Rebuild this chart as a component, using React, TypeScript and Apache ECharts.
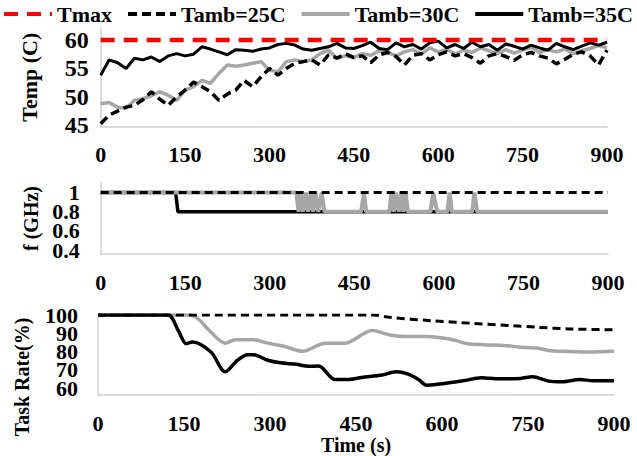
import React, { useEffect, useRef } from "react";
import * as echarts from "echarts";

const FONT = "Liberation Serif";
const GRAY = "#A6A6A6";
const AXIS = "#D0D0D0";

// Legend / series names
const seriesNames = ["Tmax", "Tamb=25C", "Tamb=30C", "Tamb=35C"];

// X ticks (seconds)
const xTicks = [0, 150, 300, 450, 600, 750, 900];

// ---- Panel 1: temperature ----
const tempTicks = [45, 50, 55, 60];
const tmaxTimes = [0, 900];
const tmaxValues = [60, 60];
const tempTimes = [
  0, 15, 30, 45, 60, 75, 90, 105, 120, 135, 150, 165, 180, 195, 210, 225, 240, 255, 270, 285,
  300, 315, 330, 345, 360, 375, 390, 405, 420, 435, 450, 465, 480, 495, 510, 525, 540, 555, 570, 585,
  600, 615, 630, 645, 660, 675, 690, 705, 720, 735, 750, 765, 780, 795, 810, 825, 840, 855, 870, 885, 900,
];
const temp25 = [
  45.3, 46.8, 47.5, 48.2, 48.5, 49.5, 50.9, 49.6, 48.5, 50.0, 51.2, 52.6, 51.8, 50.9, 49.4, 50.5, 51.2, 52.9, 51.8, 53.5,
  55.0, 53.8, 55.0, 55.9, 56.2, 56.5, 55.6, 57.4, 56.8, 57.6, 56.9, 57.2, 56.0, 57.4, 57.8, 57.1, 55.6, 57.3, 57.6, 56.5,
  57.4, 57.9, 57.2, 57.6, 56.9, 55.9, 57.2, 57.6, 57.1, 56.4, 57.4, 57.8, 57.2, 56.8, 55.8, 56.6, 57.5, 57.9, 57.2, 55.6, 58.2,
];
const temp30 = [
  48.8, 49.0, 48.2, 48.0, 49.4, 49.7, 50.2, 50.9, 50.3, 49.4, 51.2, 51.8, 52.9, 52.4, 54.1, 55.6, 55.4, 55.6, 55.9, 56.2,
  54.7, 54.4, 56.2, 56.5, 56.2, 56.5, 57.6, 58.2, 56.8, 57.2, 56.9, 57.6, 57.3, 58.1, 57.8, 57.2, 57.9, 58.3, 57.5, 58.6,
  57.9, 58.4, 57.5, 58.2, 57.8, 58.6, 58.1, 57.6, 58.3, 57.7, 58.2, 58.7, 57.8, 58.3, 57.9, 58.4, 57.6, 58.1, 58.5, 59.0, 58.6,
];
const temp35 = [
  53.8, 56.5, 56.0, 55.0, 56.8, 56.5, 57.0, 56.2, 57.2, 57.6, 57.2, 57.5, 58.8, 58.4, 57.9, 57.4, 58.3, 58.2, 58.0, 58.4,
  58.6, 59.2, 59.4, 59.1, 58.4, 58.2, 58.5, 58.8, 59.4, 58.6, 58.5, 59.0, 59.6, 58.5, 58.3, 59.5, 58.8, 59.2, 58.4, 59.5,
  59.8, 58.6, 59.2, 58.5, 59.6, 58.8, 59.2, 58.2, 59.3, 58.9, 58.4, 59.1, 58.6, 58.2, 59.4, 58.8, 58.3, 58.9, 59.5, 59.1, 59.6,
];

// ---- Panel 2: frequency ----
const freqTicksA = [0.4, 0.8];
const freqTicksB = [0.6, 1];
const freqTimes25 = [0, 900];
const freq25 = [1, 1];
const freqTimes30 = [
  0, 347, 351, 355, 359, 364, 368, 373, 377, 381, 386, 392, 397, 462, 467, 471, 512, 516, 520, 524,
  529, 533, 537, 541, 545, 585, 590, 597, 615, 619, 623, 659, 663, 668, 900,
];
const freq30 = [
  1, 1, 0.8, 1, 0.8, 1, 0.8, 1, 0.8, 1, 0.8, 1, 0.8, 0.8, 1, 0.8, 0.8, 1, 0.8, 1,
  0.8, 1, 0.8, 1, 0.8, 0.8, 1, 0.8, 0.8, 1, 0.8, 0.8, 1, 0.8, 0.8,
];
const freqTimes35 = [0, 133, 137, 900];
const freq35 = [1, 1, 0.8, 0.8];

// ---- Panel 3: task rate ----
const rateTicksA = [60, 80, 100];
const rateTicksB = [70, 90];
const rateTimes25 = [0, 481, 509, 581, 651, 722, 765, 822, 900];
const rate25 = [100, 100, 98.7, 96.9, 95.5, 94.2, 93.3, 92.4, 91.9];
const rateTimes30 = [
  0, 161, 175, 197, 222, 239, 271, 296, 325, 357, 396, 431, 478, 509, 538, 573, 598, 623, 644, 673,
  708, 737, 765, 786, 808, 857, 900,
];
const rate30 = [
  100, 100, 97.8, 90.6, 84.6, 86.4, 86.4, 84.6, 82.8, 80.1, 84.6, 84.6, 91.5, 89.1, 88.2, 88.2, 87.5, 86.1, 84.3, 83.7,
  83.3, 82.4, 81.9, 80.6, 80.1, 79.7, 80.1,
];
const rateTimes35 = [
  0, 122, 140, 154, 165, 197, 222, 243, 261, 271, 296, 318, 346, 367, 385, 413, 438, 460, 495, 520,
  541, 559, 573, 595, 616, 637, 669, 694, 737, 758, 786, 808, 840, 864, 900,
];
const rate35 = [
  100, 100, 91.5, 84.3, 85.2, 79.7, 68.9, 75.2, 78.3, 78.3, 75.2, 73.8, 73.0, 71.9, 72.1, 64.7, 64.7, 65.8, 67.1, 68.9,
  67.6, 64.7, 61.6, 62.2, 63.1, 64.0, 65.6, 65.1, 65.3, 66.2, 63.8, 63.4, 64.7, 64.0, 64.0,
];

const pairs = (xs: number[], ys: number[]) => xs.map((x, i) => [x, ys[i]]);

const labelFont = { fontFamily: FONT, fontWeight: "bold" as const, color: "#000", fontSize: 22 };

function xAxis(gridIndex: number, extra: any = {}) {
  return {
    type: "value",
    gridIndex,
    min: 0,
    max: 900,
    interval: 150,
    axisLine: { show: true, onZero: false, lineStyle: { color: AXIS, width: 1.5 } },
    axisTick: { show: false },
    splitLine: { show: false },
    axisLabel: { ...labelFont, margin: 17, customValues: xTicks, hideOverlap: false },
    ...extra,
  };
}

function yAxis(
  gridIndex: number,
  min: number,
  max: number,
  ticks: number[],
  margin: number,
  fontSize: number,
  showLine: boolean,
  extra: any = {}
) {
  return {
    type: "value",
    gridIndex,
    position: "left",
    offset: 0,
    min,
    max,
    axisLine: { show: showLine, lineStyle: { color: AXIS, width: 1.5 } },
    axisTick: { show: false },
    splitLine: { show: false },
    axisLabel: {
      ...labelFont,
      fontSize,
      margin,
      customValues: ticks,
      hideOverlap: false,
      showMinLabel: true,
      showMaxLabel: true,
    },
    nameLocation: "middle",
    nameRotate: 90,
    ...extra,
  };
}

export default function App() {
  const ref = useRef<HTMLDivElement>(null);
  useEffect(() => {
    if (!ref.current) return;
    const chart = echarts.init(ref.current, undefined, { renderer: "svg" });
    const nameStyle = { fontFamily: FONT, fontWeight: "bold", color: "#000", fontSize: 20 };
    const line = (
      name: string,
      gi: number,
      yi: number,
      data: number[][],
      color: string,
      width: number,
      type: any,
      z: number,
      smooth: number | boolean = false
    ) => ({
      type: "line",
      name,
      xAxisIndex: gi,
      yAxisIndex: yi,
      data,
      showSymbol: false,
      symbol: "none",
      smooth,
      z,
      lineStyle: { color, width, type, cap: "butt" },
      itemStyle: { color },
    });
    chart.setOption({
      animation: false,
      backgroundColor: "#fff",
      legend: {
        data: seriesNames,
        left: 2,
        top: 3,
        width: 635,
        padding: 0,
        itemWidth: 48,
        itemHeight: 14,
        itemGap: 14,
        itemStyle: { opacity: 0, borderWidth: 0, color: "rgba(0,0,0,0)" },
        lineStyle: { width: 4 },
        textStyle: { fontFamily: FONT, fontWeight: "bold", color: "#000", fontSize: 22 },
      },
      grid: [
        { left: 100.7, width: 506.3, top: 28, height: 98.5 },
        { left: 100.7, width: 507.3, top: 183, height: 71 },
        { left: 98, width: 516, top: 315, height: 80 },
      ],
      xAxis: [
        xAxis(0),
        xAxis(1),
        xAxis(2, { name: "Time (s)", nameLocation: "middle", nameGap: 35, nameTextStyle: nameStyle }),
      ],
      yAxis: [
        yAxis(0, 44.8, 62.1, tempTicks, 12, 24, true, {
          name: "Temp (C)",
          nameGap: 60,
          nameTextStyle: { ...nameStyle, fontSize: 22 },
        }),
        yAxis(1, 0.36, 1.1, freqTicksA, 21, 22, true, { name: "f (GHz)", nameGap: 56, nameTextStyle: nameStyle }),
        yAxis(1, 0.36, 1.1, freqTicksB, 21, 22, false),
        yAxis(2, 56.2, 100, rateTicksA, 20, 22, true, {
          name: "Task Rate(%)",
          nameGap: 66,
          nameTextStyle: { ...nameStyle, padding: [0, 44, 0, 0] },
        }),
        yAxis(2, 56.2, 100, rateTicksB, 20, 22, false),
      ],
      series: [
        line("Tmax", 0, 0, pairs(tmaxTimes, tmaxValues), "#FF0000", 4.5, [14, 9], 10),
        line("Tamb=25C", 0, 0, pairs(tempTimes, temp25), "#000", 3.5, [9, 5], 5),
        line("Tamb=30C", 0, 0, pairs(tempTimes, temp30), GRAY, 3.5, "solid", 4),
        line("Tamb=35C", 0, 0, pairs(tempTimes, temp35), "#000", 3, "solid", 6),
        line("Tamb=35C", 1, 1, pairs(freqTimes35, freq35), "#000", 3.5, "solid", 3),
        line("Tamb=30C", 1, 1, pairs(freqTimes30, freq30), GRAY, 4, "solid", 4),
        line("Tamb=25C", 1, 1, pairs(freqTimes25, freq25), "#000", 3, [8, 5], 6),
        line("Tamb=25C", 2, 3, pairs(rateTimes25, rate25), "#000", 3, [8, 5], 5, 0.3),
        line("Tamb=30C", 2, 3, pairs(rateTimes30, rate30), GRAY, 3.5, "solid", 4, 0.3),
        line("Tamb=35C", 2, 3, pairs(rateTimes35, rate35), "#000", 3.5, "solid", 6, 0.3),
      ],
    });
    return () => chart.dispose();
  }, []);
  return (
    <div
      ref={ref}
      style={{ position: "fixed", left: 0, top: 0, width: 637, height: 456, background: "#fff" }}
    />
  );
}
